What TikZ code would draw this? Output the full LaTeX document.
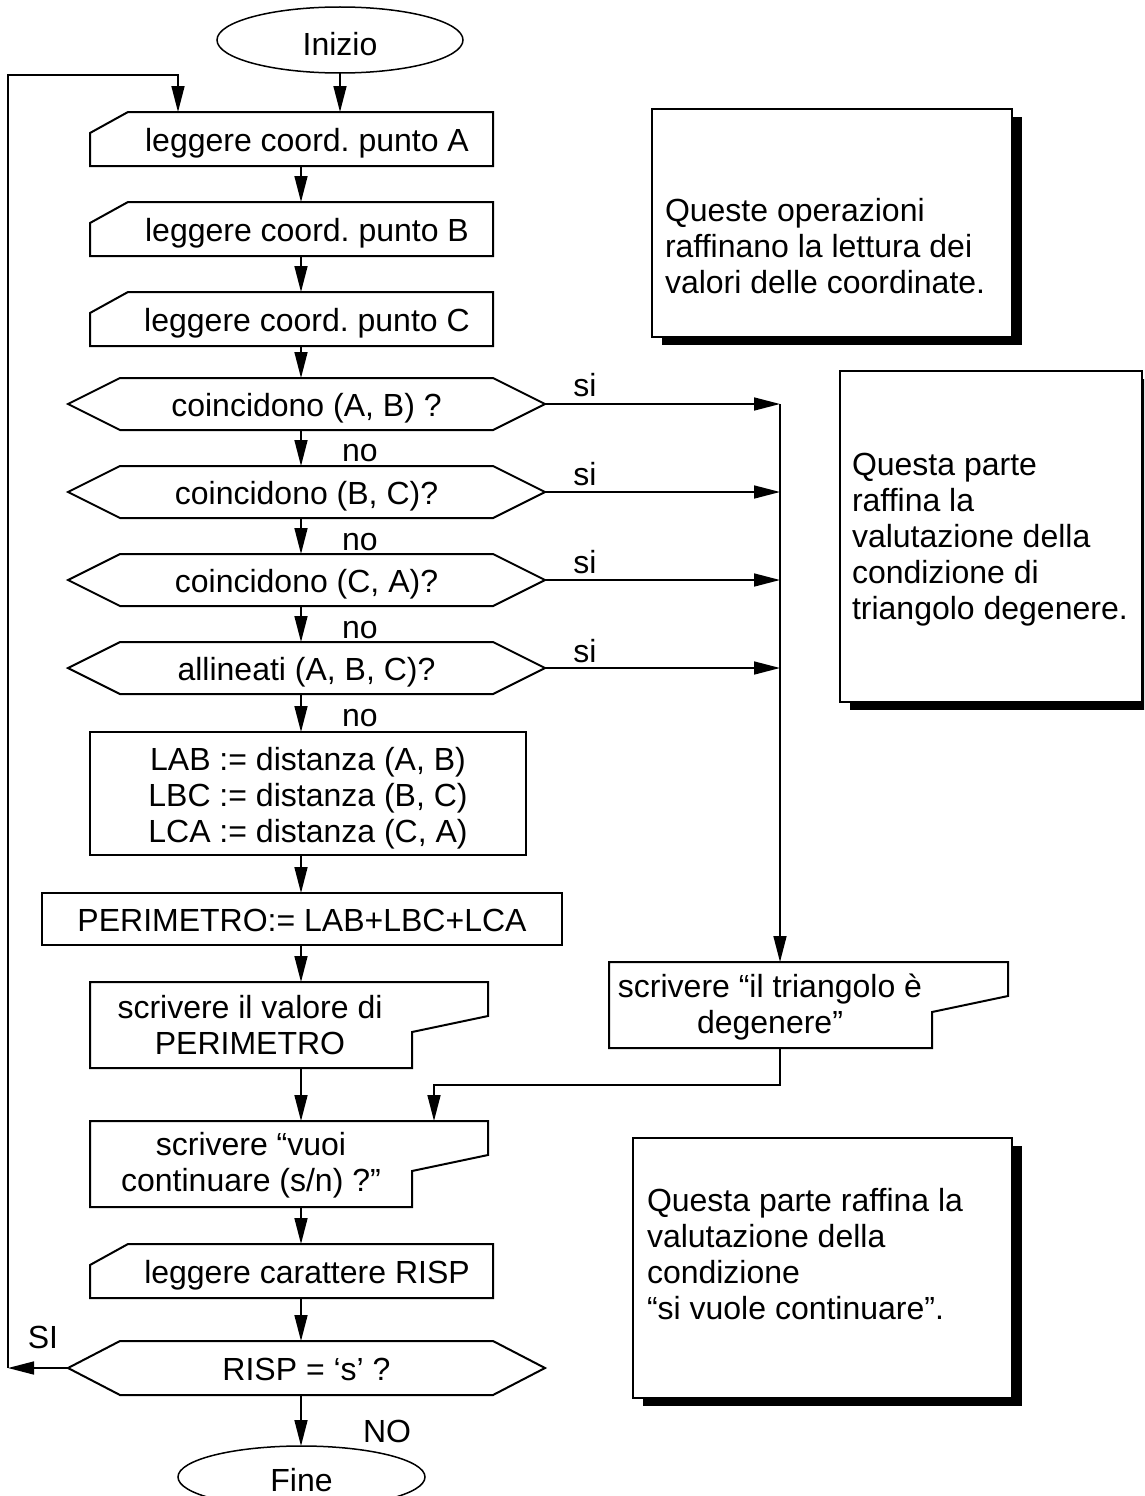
\documentclass[tikz,border=0pt]{standalone}
\usepackage{fontspec}
\setmainfont{Liberation Sans}
\usetikzlibrary{arrows.meta,calc,shapes.geometric,shadows}

\newcommand\chartfont{\fontsize{32pt}{36pt}\selectfont\frenchspacing}

% outline of an input (read) block: top-left corner cut off
\newcommand\drawInput[1]{%
  \draw[frame] (#1.south west) -- ($(#1.north west)+(0,21)$) -- ($(#1.north west)+(38,0)$)
    -- (#1.north east) -- (#1.south east) -- cycle;}
% outline of a decision block: elongated hexagon
\newcommand\drawDecision[1]{%
  \draw[frame] (#1.west) -- ($(#1.north west)+(52,0)$) -- ($(#1.north east)+(-52,0)$)
    -- (#1.east) -- ($(#1.south east)+(-52,0)$) -- ($(#1.south west)+(52,0)$) -- cycle;}
% outline of an output (write) block: notch on the lower right
\newcommand\drawOutput[1]{%
  \draw[frame] (#1.south west) -- (#1.north west) -- (#1.north east)
    -- ($(#1.north east)+(0,34)$) -- ($(#1.north east)+(-76,50)$)
    -- ($(#1.south east)+(-76,0)$) -- cycle;}

\begin{document}
\begin{tikzpicture}[x=1pt,y=-1pt,
  base/.style={font=\chartfont, inner sep=0pt, outer sep=0pt},
  oneline/.style={text height=25pt, text depth=0pt},
  frame/.style={draw=black, line width=2pt, line join=miter},
  conn/.style={line width=1.6pt},
  arr/.style={conn, -{Triangle[length=26pt,width=13pt]}},
  term/.style={base, ellipse, draw, line width=1.5pt, text depth=0pt},
  inbox/.style={base, rectangle, minimum width=403pt, minimum height=54pt},
  decision/.style={base, oneline, rectangle, minimum width=477pt, minimum height=52pt},
  process/.style={base, rectangle, frame, align=center},
  outbox/.style={base, rectangle, minimum width=398pt, minimum height=86pt},
  shifted/.style={base, align=center, xshift=#1},
  note/.style={base, rectangle, draw, line width=1.5pt, fill=white,
    drop shadow={shadow xshift=10pt, shadow yshift=-8pt, fill=black, opacity=1}},
  notetext/.style={base, align=left, anchor=west},
  tag/.style={base},
]
\useasboundingbox (0,0) rectangle (1144,1496);
\clip (0,0) rectangle (1144,1496);

% guide coordinates
\coordinate (ax) at (301,0);
\coordinate (vline) at (780,0);
\coordinate (loopx) at (8,0);
\coordinate (looptop) at (178,75);
\coordinate (merge) at (434,1085);

% terminals
\node[term, text height=31pt, minimum width=246pt, minimum height=66pt] (inizio) at (340,40) {Inizio};
\node[term, text height=29pt, minimum width=247pt, minimum height=62pt] (fine) at (301.5,1477) {Fine};

% input blocks
\node[inbox, label={[shifted=15.5pt, oneline]center:{leggere coord. punto A}}] (rA) at (291.5,139) {};
\node[inbox, label={[shifted=15.5pt, oneline]center:{leggere coord. punto B}}] (rB) at (291.5,229) {};
\node[inbox, label={[shifted=15.5pt, oneline]center:{leggere coord. punto C}}] (rC) at (291.5,319) {};
\node[inbox, label={[shifted=15.5pt, oneline]center:{leggere carattere RISP}}] (rR) at (291.5,1271) {};
\drawInput{rA}
\drawInput{rB}
\drawInput{rC}
\drawInput{rR}

% decisions
\node[decision] (dAB) at (306.5,404) {coincidono (A, B) ?};
\node[decision] (dBC) at (306.5,492) {coincidono (B, C)?};
\node[decision] (dCA) at (306.5,580) {coincidono (C, A)?};
\node[decision] (dABC) at (306.5,668) {allineati (A, B, C)?};
\node[decision, minimum height=54pt] (dR) at (306.5,1368) {RISP = ‘s’ ?};
\drawDecision{dAB}
\drawDecision{dBC}
\drawDecision{dCA}
\drawDecision{dABC}
\drawDecision{dR}

% processing
\node[process, minimum width=436pt, minimum height=123pt,
  label={[base, align=center, yshift=-5pt]center:{LAB := distanza (A, B)\\LBC := distanza (B, C)\\LCA := distanza (C, A)}}]
  (dist) at (308,793.5) {};
\node[process, oneline, minimum width=520pt, minimum height=52pt] (per) at (302,919)
  {PERIMETRO:= LAB+LBC+LCA};

% output blocks
\node[outbox, label={[shifted=-39pt]center:{scrivere il valore di\\PERIMETRO}}] (outP) at (289,1025) {};
\node[outbox, minimum width=399pt, label={[shifted=-38.5pt, yshift=-2pt]center:{scrivere “il triangolo è\\degenere”}}] (outD) at (808.5,1005) {};
\node[outbox, label={[shifted=-38pt, yshift=-1pt]center:{scrivere “vuoi\\continuare (s/n) ?”}}] (outV) at (289,1164) {};
\drawOutput{outP}
\drawOutput{outD}
\drawOutput{outV}

% comment boxes
\node[note, minimum width=360pt, minimum height=228pt,
  label={[notetext, xshift=13pt, yshift=-23pt]west:{Queste operazioni\\raffinano la lettura dei\\valori delle coordinate.}}]
  (note1) at (832,223) {};
\node[note, minimum width=302pt, minimum height=331pt,
  label={[notetext, xshift=12pt, yshift=-3.5pt]west:{Questa parte\\raffina la\\valutazione della\\condizione di\\triangolo degenere.}}]
  (note2) at (991,536.5) {};
\node[note, minimum width=379pt, minimum height=260pt,
  label={[notetext, xshift=14pt, yshift=14pt]west:{Questa parte raffina la\\valutazione della\\condizione\\“si vuole continuare”.}}]
  (note3) at (822.5,1268) {};

% main flow
\draw[arr] (inizio.south) -- (inizio.south |- rA.north);
\draw[arr] (rA.south -| ax) -- (rB.north -| ax);
\draw[arr] (rB.south -| ax) -- (rC.north -| ax);
\draw[arr] (rC.south -| ax) -- (dAB.north -| ax);
\draw[arr] (dAB.south -| ax) -- (dBC.north -| ax);
\draw[arr] (dBC.south -| ax) -- (dCA.north -| ax);
\draw[arr] (dCA.south -| ax) -- (dABC.north -| ax);
\draw[arr] (dABC.south -| ax) -- (dist.north -| ax);
\draw[arr] (dist.south -| ax) -- (per.north -| ax);
\draw[arr] (per.south -| ax) -- (outP.north -| ax);
\draw[arr] (outP.south -| ax) -- (outV.north -| ax);
\draw[arr] (outV.south -| ax) -- (rR.north -| ax);
\draw[arr] (rR.south -| ax) -- (dR.north -| ax);
\draw[arr] (dR.south -| ax) -- (fine.north -| ax);

% degenerate-triangle branch
\draw[arr] (dAB.east) -- (dAB.east -| vline);
\draw[arr] (dBC.east) -- (dBC.east -| vline);
\draw[arr] (dCA.east) -- (dCA.east -| vline);
\draw[arr] (dABC.east) -- (dABC.east -| vline);
\draw[arr] (dAB.east -| vline) -- (outD.north -| vline);
\draw[arr] (outD.south -| vline) |- (merge) -- (merge |- outV.north);

% repeat loop
\draw[arr] (dR.west) -- (dR.west -| loopx);
\draw[arr] (dR.west -| loopx) |- (looptop) -- (looptop |- rA.north);

% branch labels
\node[tag] (si1) at (585,385) {si};
\node[tag] (si2) at (585,474) {si};
\node[tag] (si3) at (585,562) {si};
\node[tag] (si4) at (585,651) {si};
\node[tag] (no1) at (360,453) {no};
\node[tag] (no2) at (360,542) {no};
\node[tag] (no3) at (360,630) {no};
\node[tag] (no4) at (360,718) {no};
\node[tag] (siR) at (43,1337) {SI};
\node[tag] (noR) at (387,1431) {NO};
\end{tikzpicture}
\end{document}
